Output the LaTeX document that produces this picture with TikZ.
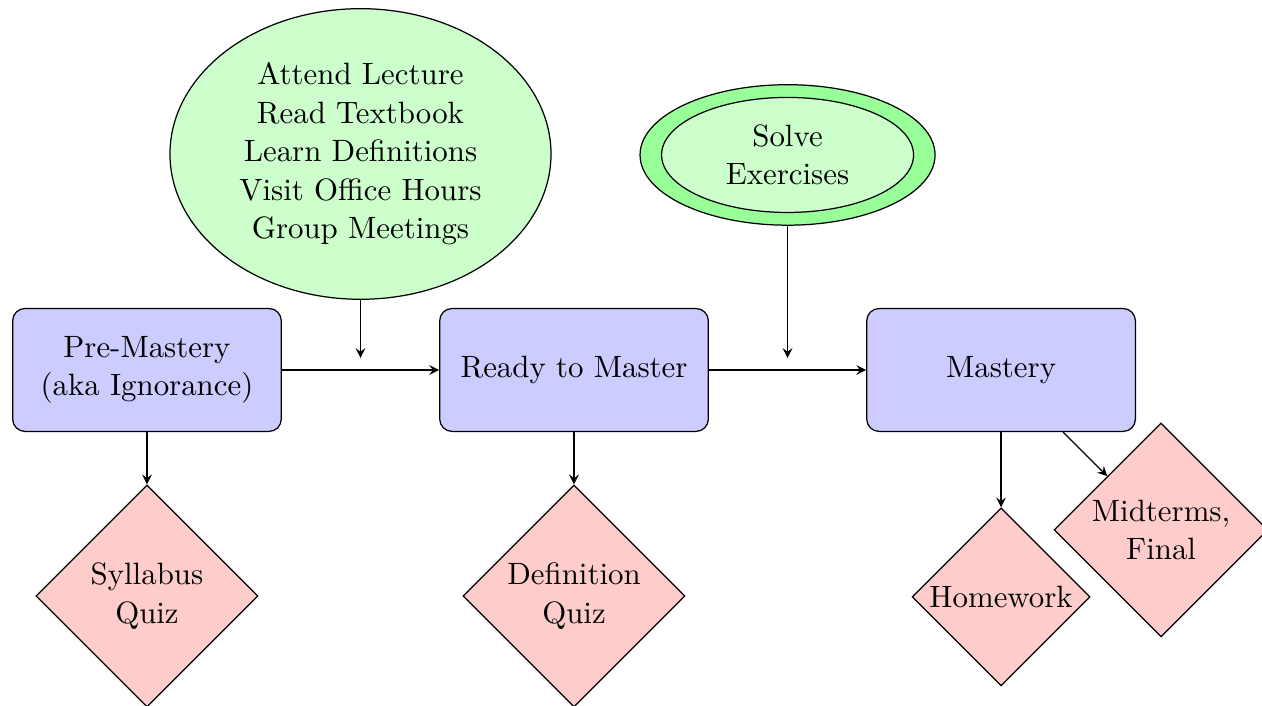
\documentclass[tikz,border=0pt]{standalone}
\usepackage{tikz}
\usetikzlibrary{arrows,shapes,positioning,calc}
\usepackage{xcolor}
\definecolor{stageblue}{RGB}{204,204,255}
\definecolor{actgreen}{RGB}{204,255,204}
\definecolor{actgreendark}{RGB}{153,255,153}
\definecolor{testred}{RGB}{255,204,204}
\tikzstyle{arrow} = [->,>=stealth]
\tikzstyle{stage} = [rectangle, rounded corners, minimum width=3.06cm, minimum height=1.40cm, text centered, align=center, draw=black, fill=stageblue]
\tikzstyle{activity} = [ellipse, align=center, draw=black, fill=actgreen]
\tikzstyle{assessment} = [diamond, aspect=1, inner sep=1pt, align=center, draw=black, fill=testred]

\begin{document}
\begin{tikzpicture}[every node/.style={font=\fontsize{10pt}{12.5pt}\selectfont}]
\useasboundingbox (-1.674,-3.827) rectangle (12.700,4.214);
% Stages of learning
\node (pre) [stage] {Pre-Mastery\\(aka Ignorance)};
\node (ready) [stage, right of=pre, node distance=4.864cm] {Ready to Master};
\node (mastery) [stage, right of=ready, node distance=4.864cm] {Mastery};
\draw[arrow] (pre) -- (ready);
\draw[arrow] (ready) -- (mastery);

% What moves you along
\coordinate (join1) at ($(pre)!0.5!(ready)+(0,0.137)$);
\coordinate (join2) at ($(ready)!0.5!(mastery)+(0,0.137)$);
\node (learn) [activity, above of=join1, node distance=2.323cm, minimum width=4.34cm, minimum height=3.31cm] {Attend Lecture\\Read Textbook\\Learn Definitions\\Visit Office Hours\\Group Meetings};
\node (solvering) [activity, above of=join2, node distance=2.312cm, minimum width=3.36cm, minimum height=1.60cm, fill=actgreendark] {};
\node (solve) [activity, minimum width=2.87cm, minimum height=1.31cm] at (solvering) {Solve\\Exercises};
\draw[arrow] (learn) -- (join1);
\draw[arrow] (solvering) -- (join2);

% Assessments
\node (syllabus) [assessment, below of=pre, node distance=2.574cm, minimum size=2.529cm] {Syllabus\\Quiz};
\node (defquiz) [assessment, below of=ready, node distance=2.574cm, minimum size=2.529cm] {Definition\\Quiz};
\node (homework) [assessment, below of=mastery, node distance=2.585cm, minimum size=2.027cm] {Homework};
\node (exams) [assessment, below right of=mastery, node distance=2.577cm, minimum size=2.437cm] {Midterms,\\Final};
\draw[arrow] (pre) -- (syllabus);
\draw[arrow] (ready) -- (defquiz);
\draw[arrow] (mastery) -- (homework);
\draw[arrow] (mastery) -- (exams);
\end{tikzpicture}
\end{document}
